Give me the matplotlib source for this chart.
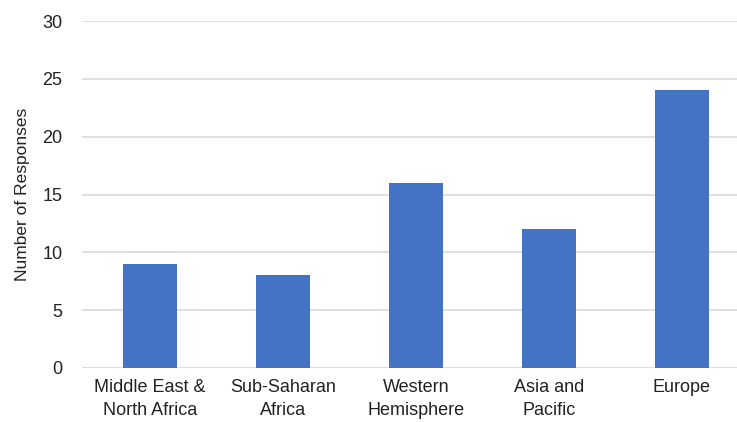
import matplotlib
matplotlib.use("Agg")
import matplotlib.pyplot as plt

categories = ["Middle East &\nNorth Africa", "Sub-Saharan\nAfrica", "Western\nHemisphere", "Asia and\nPacific", "Europe"]
values = [9, 8, 16, 12, 24]
yticks = [0, 5, 10, 15, 20, 25, 30]

plt.rcParams['font.family'] = ['Liberation Sans', 'DejaVu Sans']

fig = plt.figure(figsize=(7.37, 4.22), dpi=100)
W, H = 737, 422
ax = fig.add_axes([82 / W, 54 / H, (737 - 82) / W, (368 - 21) / H])

x = list(range(len(categories)))
ax.bar(x, values, width=0.4, color="#4472C4", zorder=3)

left = -0.5 - (150 - 66.5 - 82) / 133
ax.set_xlim(left, left + 655 / 133)
ax.set_ylim(0, 30)
ax.set_yticks(yticks)
ax.set_xticks(x)
ax.set_xticklabels(categories, fontsize=13, color="#222222", linespacing=1.45)
ax.tick_params(axis="y", labelsize=13, colors="#222222", length=0, pad=14)
ax.tick_params(axis="x", length=0, pad=8)
ax.grid(axis="y", color="#d9d9d9", linewidth=1.2, zorder=0)
for s in ax.spines.values():
    s.set_visible(False)
ax.set_ylabel("Number of Responses", fontsize=12.5, color="#222222")
ax.yaxis.set_label_coords(-0.08, 0.5)

fig.savefig("out.png", dpi=100)
